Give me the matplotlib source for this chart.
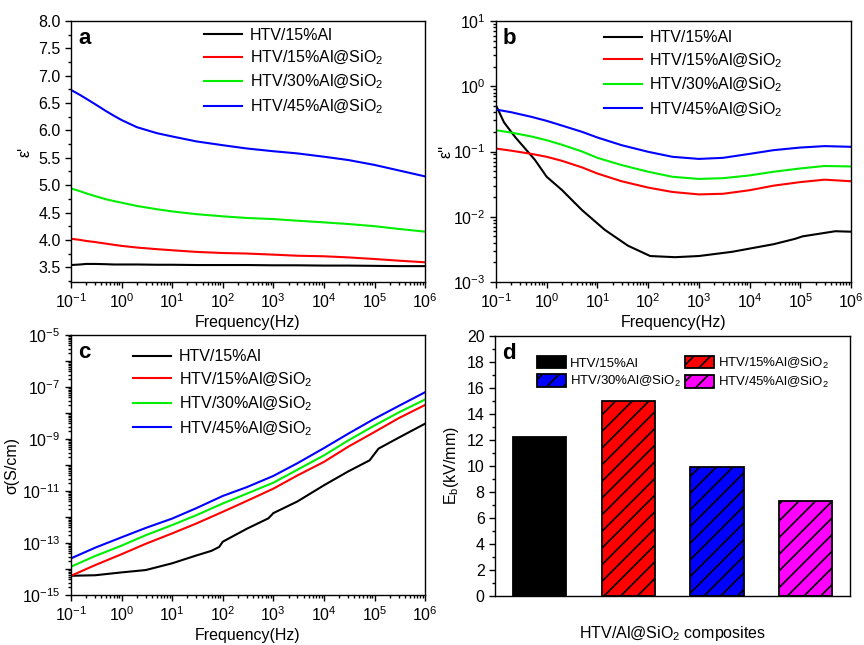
import numpy as np
import matplotlib
matplotlib.use("Agg")
import matplotlib.pyplot as plt
from matplotlib.ticker import MultipleLocator, LogLocator, FuncFormatter, NullFormatter, NullLocator
from matplotlib.patches import Patch

plt.rcParams['font.family'] = ['Liberation Sans', 'DejaVu Sans']
plt.rcParams['mathtext.default'] = 'regular'
plt.rcParams['hatch.linewidth'] = 1.2

names = ["HTV/15%Al", "HTV/15%Al@SiO$_2$", "HTV/30%Al@SiO$_2$", "HTV/45%Al@SiO$_2$"]
colors = ["black", "#ff0000", "#00ee00", "#0000ff"]

# (a) real permittivity
f_a = [0.1, 0.15, 0.2, 0.3, 0.5, 0.7, 1, 2, 5, 10, 30, 100, 300, 1e3, 3e3, 1e4, 3e4, 1e5, 3e5, 1e6]
eps1 = [
    [3.54, 3.55, 3.56, 3.56, 3.555, 3.55, 3.55, 3.55, 3.545, 3.545, 3.54, 3.54, 3.54, 3.535, 3.535, 3.53, 3.53, 3.525, 3.52, 3.52],
    [4.02, 4.00, 3.98, 3.96, 3.93, 3.91, 3.89, 3.86, 3.83, 3.81, 3.78, 3.76, 3.75, 3.73, 3.71, 3.70, 3.68, 3.65, 3.62, 3.59],
    [4.94, 4.89, 4.85, 4.80, 4.74, 4.71, 4.68, 4.62, 4.56, 4.52, 4.47, 4.43, 4.40, 4.38, 4.35, 4.32, 4.29, 4.25, 4.20, 4.15],
    [6.74, 6.65, 6.58, 6.48, 6.35, 6.27, 6.19, 6.06, 5.95, 5.89, 5.80, 5.73, 5.67, 5.62, 5.58, 5.52, 5.46, 5.37, 5.27, 5.16],
]

# (b) imaginary permittivity
f_b = [0.1, 0.2, 0.5, 1, 2, 5, 10, 30, 100, 300, 1e3, 3e3, 1e4, 3e4, 1e5, 3e5, 1e6]
f_b_black = [0.1, 0.12, 0.144, 0.24, 0.4, 0.59, 1.0, 2, 5, 14, 40, 110, 340, 1000, 4500, 3e4, 8e4, 1.1e5, 4.9e5, 1e6]
eps2_black = [0.51, 0.38, 0.28, 0.166, 0.105, 0.074, 0.041, 0.0257, 0.0126, 0.0063, 0.0036, 0.0025, 0.0024,
              0.0025, 0.0029, 0.0038, 0.0046, 0.0050, 0.0060, 0.0059]
eps2 = [
    [0.111, 0.103, 0.092, 0.083, 0.072, 0.057, 0.046, 0.035, 0.028, 0.024, 0.022, 0.0225, 0.0255, 0.030, 0.034, 0.037, 0.035],
    [0.212, 0.195, 0.170, 0.149, 0.127, 0.100, 0.080, 0.062, 0.049, 0.041, 0.038, 0.039, 0.043, 0.049, 0.055, 0.060, 0.059],
    [0.44, 0.40, 0.34, 0.295, 0.25, 0.20, 0.164, 0.125, 0.099, 0.083, 0.077, 0.080, 0.092, 0.105, 0.115, 0.121, 0.118],
]

# (c) conductivity, log10(S/cm)
f_c = [0.1, 0.3, 1, 3, 10, 30, 100, 300, 1e3, 3e3, 1e4, 3e4, 1e5, 3e5, 1e6]
f_c_black = [0.1, 0.3, 1, 3, 10, 30, 60, 85, 100, 300, 800, 1000, 3e3, 1e4, 3e4, 8e4, 1.2e5, 3e5, 1e6]
sig_black = [-14.26, -14.24, -14.13, -14.04, -13.78, -13.48, -13.30, -13.15, -12.95, -12.45, -12.05, -11.85,
             -11.40, -10.78, -10.25, -9.82, -9.37, -8.95, -8.41]
sig = [
    [-14.26, -13.85, -13.43, -13.03, -12.63, -12.25, -11.80, -11.38, -10.91, -10.40, -9.88, -9.30, -8.73, -8.20, -7.69],
    [-13.91, -13.50, -13.10, -12.70, -12.31, -11.93, -11.48, -11.10, -10.68, -10.18, -9.63, -9.06, -8.48, -7.98, -7.48],
    [-13.59, -13.18, -12.78, -12.42, -12.06, -11.66, -11.19, -10.85, -10.42, -9.93, -9.35, -8.80, -8.22, -7.73, -7.20],
]

# (d) breakdown strength
eb = [12.2, 15.0, 9.9, 7.3]
bar_colors = ["black", "#ff0000", "#0000ff", "#ff00ff"]
bar_hatch = [None, "//", "//", "//"]

fig = plt.figure(figsize=(8.64, 6.45), dpi=100)
axa = fig.add_axes([0.0822, 0.5628, 0.4098, 0.4046])
axb = fig.add_axes([0.574, 0.5628, 0.411, 0.4046])
axc = fig.add_axes([0.0822, 0.0775, 0.4098, 0.4031])
axd = fig.add_axes([0.573, 0.076, 0.411, 0.403])

def style(ax):
    ax.tick_params(which='both', direction='out', top=False, right=False, labelsize=11.5, width=1)
    ax.tick_params(which='major', length=4)
    ax.tick_params(which='minor', length=2.5)
    for s in ax.spines.values():
        s.set_linewidth(1)

def freq_axis(ax):
    ax.set_xscale('log')
    ax.set_xlim(0.1, 1e6)
    ax.xaxis.set_major_locator(LogLocator(base=10, numticks=20))
    ax.xaxis.set_minor_locator(LogLocator(base=10, subs=np.arange(2, 10), numticks=20))
    ax.xaxis.set_minor_formatter(NullFormatter())
    ax.set_xlabel("Frequency(Hz)", fontsize=11.5, labelpad=3)

def leg(ax, x, y):
    ax.legend(loc='upper left', bbox_to_anchor=(x, y), frameon=False, fontsize=11.5,
              handlelength=2.4, handletextpad=0.45, labelspacing=0.38, borderpad=0, borderaxespad=0)

# a
for i in range(4):
    axa.plot(f_a, eps1[i], color=colors[i], lw=1.5, label=names[i])
freq_axis(axa)
axa.set_ylim(3.23, 8.0)
axa.yaxis.set_major_locator(MultipleLocator(0.5))
axa.yaxis.set_minor_locator(MultipleLocator(0.25))
axa.yaxis.set_major_formatter(FuncFormatter(lambda v, p: f"{v:.1f}"))
axa.set_ylabel("ε'", fontsize=11.5, labelpad=4)
style(axa)
leg(axa, 0.376, 0.975)
axa.text(0.02, 0.975, "a", transform=axa.transAxes, fontsize=16, fontweight='bold', va='top')

# b
axb.plot(f_b_black, eps2_black, color=colors[0], lw=1.5, label=names[0])
for i in range(3):
    axb.plot(f_b, eps2[i], color=colors[i + 1], lw=1.5, label=names[i + 1])
freq_axis(axb)
axb.set_yscale('log')
axb.set_ylim(1e-3, 10)
axb.yaxis.set_major_locator(LogLocator(base=10, numticks=20))
axb.yaxis.set_minor_locator(LogLocator(base=10, subs=np.arange(2, 10), numticks=20))
axb.yaxis.set_minor_formatter(NullFormatter())
axb.set_ylabel("ε''", fontsize=11.5, labelpad=0)
style(axb)
leg(axb, 0.304, 0.965)
axb.text(0.02, 0.975, "b", transform=axb.transAxes, fontsize=16, fontweight='bold', va='top')

# c
axc.plot(f_c_black, [10.0 ** v for v in sig_black], color=colors[0], lw=1.5, label=names[0])
for i in range(3):
    axc.plot(f_c, [10.0 ** v for v in sig[i]], color=colors[i + 1], lw=1.5, label=names[i + 1])
freq_axis(axc)
axc.set_yscale('log')
axc.set_ylim(1e-15, 1e-5)
axc.yaxis.set_major_locator(LogLocator(base=10, numticks=30))
axc.yaxis.set_minor_locator(LogLocator(base=10, subs=np.arange(2, 10), numticks=30))
axc.yaxis.set_minor_formatter(NullFormatter())
def odd_fmt(v, p):
    e = int(round(np.log10(v)))
    return f"$10^{{{e}}}$" if e % 2 != 0 else ""
axc.yaxis.set_major_formatter(FuncFormatter(odd_fmt))
axc.set_ylabel("σ(S/cm)", fontsize=11.5, labelpad=2)
style(axc)
leg(axc, 0.175, 0.945)
axc.text(0.02, 0.975, "c", transform=axc.transAxes, fontsize=16, fontweight='bold', va='top')

# d
pos = [1, 2, 3, 4]
for i in range(4):
    axd.bar(pos[i], eb[i], width=0.6, color=bar_colors[i], edgecolor='black', lw=1.3, hatch=bar_hatch[i])
axd.set_xlim(0.5, 4.5)
axd.set_ylim(0, 20)
axd.yaxis.set_major_locator(MultipleLocator(2))
axd.yaxis.set_minor_locator(MultipleLocator(1))
axd.xaxis.set_major_locator(NullLocator())
axd.set_ylabel("E$_b$(kV/mm)", fontsize=11.5, labelpad=4)
axd.set_xlabel("HTV/Al@SiO$_2$ composites", fontsize=11.5, labelpad=20)
style(axd)
handles = [Patch(facecolor=bar_colors[i], edgecolor='black', hatch=bar_hatch[i], lw=1.3) for i in range(4)]
axd.legend(handles=[handles[0], handles[2], handles[1], handles[3]],
           labels=[names[0], names[2], names[1], names[3]],
           loc='upper left', bbox_to_anchor=(0.118, 0.925), ncol=2, frameon=False, fontsize=9.5,
           handlelength=2.2, handleheight=1.1, handletextpad=0.3, columnspacing=0.3,
           labelspacing=0.35, borderpad=0, borderaxespad=0)
axd.text(0.02, 0.975, "d", transform=axd.transAxes, fontsize=16, fontweight='bold', va='top')

fig.savefig("out.png", dpi=100, facecolor="white")
